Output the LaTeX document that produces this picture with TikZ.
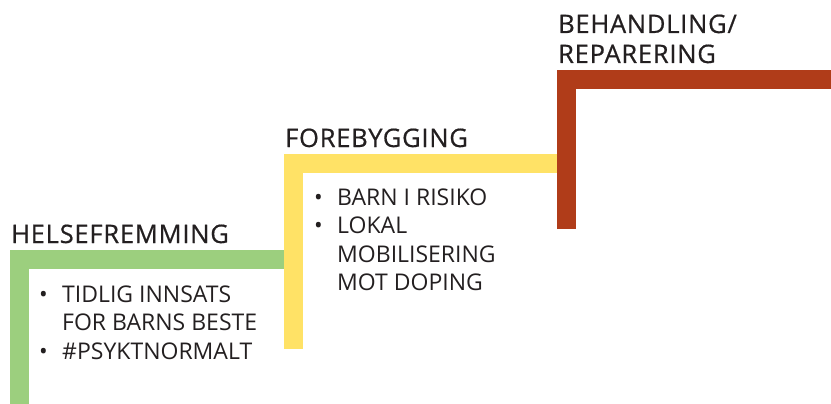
\documentclass[tikz,border=0pt]{standalone}
\usepackage{fontspec}
\setmainfont{Open Sans}
\newfontfamily\titlefont[FakeBold=0.6, LetterSpace=3]{Open Sans}
\usetikzlibrary{positioning}

\definecolor{stairgreen}{RGB}{156,207,126}
\definecolor{stairyellow}{RGB}{255,226,102}
\definecolor{stairred}{RGB}{176,60,25}
\definecolor{textgray}{RGB}{35,31,32}

\newcommand{\bitem}{\textbullet}

\begin{document}
\begin{tikzpicture}[x=1pt, y=-1pt, inner sep=0pt,
    stairbar/.style={line width=19pt, line join=miter},
    title/.style={anchor=base west, text=textgray, font=\titlefont\fontsize{25.5}{30}\selectfont, align=left},
    list/.style={anchor=base west, text=textgray, font=\fontsize{23}{28.5}\selectfont}]

\useasboundingbox (0,0) rectangle (831,404);

% steps
\draw [stairbar, stairgreen] (19.5,404) -- (19.5,259.5) -- (284,259.5);
\draw [stairbar, stairyellow] (293.5,349) -- (293.5,163.5) -- (557,163.5);
\draw [stairbar, stairred] (566.5,229) -- (566.5,79.5) -- (831,79.5);

% titles
\node [title] (helse) at (11,243) {HELSEFREMMING};
\node [title] (fore) at (285,147) {FOREBYGGING};
\node [title] (behand) at (558,63) {BEHANDLING/\\REPARERING};

% lists
\node [list] (helselist) at (39,302) {%
    \begin{tabular}[t]{@{}p{23pt}@{}l@{}}
    \bitem & TIDLIG INNSATS\\
           & FOR BARNS BESTE\\
    \bitem & \#PSYKTNORMALT
    \end{tabular}};
\node [list] (forelist) at (314,205) {%
    \begin{tabular}[t]{@{}p{23pt}@{}l@{}}
    \bitem & BARN I RISIKO\\
    \bitem & LOKAL\\
           & MOBILISERING\\
           & MOT DOPING
    \end{tabular}};

\end{tikzpicture}
\end{document}
